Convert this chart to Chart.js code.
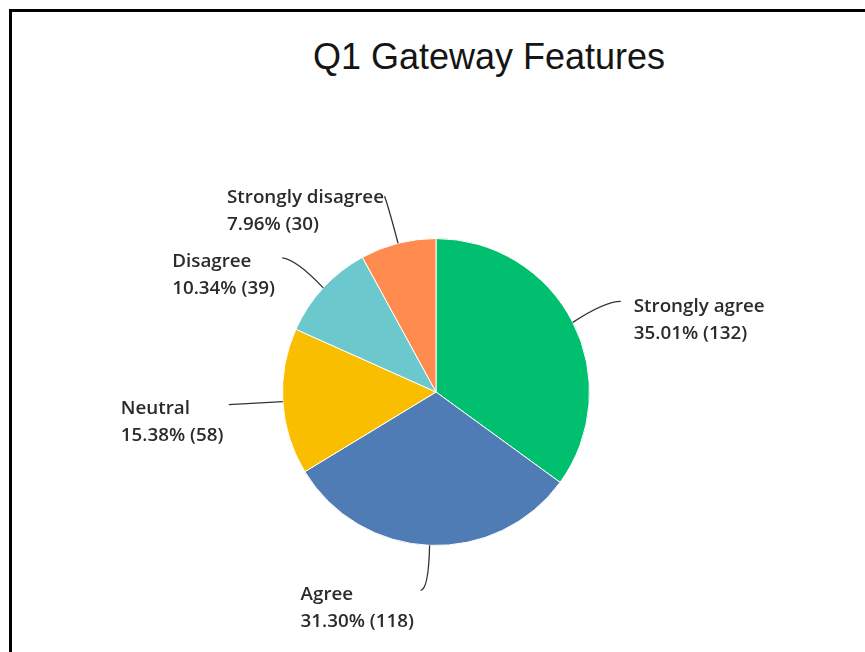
<!DOCTYPE html>
<html>
<head>
<meta charset="utf-8">
<script src="https://cdn.jsdelivr.net/npm/chart.js@4/dist/chart.umd.min.js"></script>
<style>
  html, body { margin: 0; padding: 0; background: #fff; overflow: hidden; }
  #frame { position: absolute; left: 9px; top: 9px; width: 900px; height: 700px; border: 3px solid #000; }
  #title { position: absolute; left: 189px; width: 600px; top: 37px; text-align: center;
           font: 36px "Liberation Sans", Arial, sans-serif; line-height: 40px; color: #151515; }
  #chart { position: absolute; left: 0; top: 0; }
</style>
</head>
<body>
<div id="frame"></div>
<div id="title">Q1 Gateway Features</div>
<canvas id="chart" width="865" height="652"></canvas>
<script>
const categories = ["Strongly agree", "Agree", "Neutral", "Disagree", "Strongly disagree"];
const counts = [132, 118, 58, 39, 30];
const percents = [35.01, 31.30, 15.38, 10.34, 7.96];
const sliceColors = ["#00bf6f", "#507cb6", "#f9be00", "#6bc8cd", "#ff8b4f"];

// leader line end (e), curve control (c) and text (t) offsets from the slice's outer midpoint
const labelLayout = [
  { ex: 48, ey: -21, cx: 32, cy: -21, tx: 61, ty: -10 },
  { ex: -9, ey: 45, cx: -1, cy: 44, tx: -129, ty: 55 },
  { ex: -54, ey: 3, cx: -27, cy: 1.5, tx: -162, ty: 12 },
  { ex: -41, ey: -30, cx: -27, cy: -28.5, tx: -151, ty: -21 },
  { ex: -13.5, ey: -47, cx: -10, cy: -38, tx: -171, ty: -40 }
];

const leaderLabels = {
  id: "leaderLabels",
  afterDatasetsDraw(chart) {
    const ctx = chart.ctx;
    const meta = chart.getDatasetMeta(0);
    ctx.save();
    ctx.strokeStyle = "#333";
    ctx.lineWidth = 1.3;
    ctx.fillStyle = "#2b2b2b";
    ctx.font = "600 18.8px 'Open Sans', sans-serif";
    ctx.textBaseline = "alphabetic";
    ctx.textAlign = "left";
    meta.data.forEach((arc, i) => {
      const p = arc.getProps(["x", "y", "startAngle", "endAngle", "outerRadius"], true);
      const mid = (p.startAngle + p.endAngle) / 2;
      const ax = p.x + Math.cos(mid) * p.outerRadius;
      const ay = p.y + Math.sin(mid) * p.outerRadius;
      const l = labelLayout[i];
      ctx.beginPath();
      ctx.moveTo(ax, ay);
      ctx.quadraticCurveTo(ax + l.cx, ay + l.cy, ax + l.ex, ay + l.ey);
      ctx.stroke();
      ctx.fillText(categories[i], ax + l.tx, ay + l.ty);
      ctx.fillText(percents[i].toFixed(2) + "% (" + counts[i] + ")", ax + l.tx, ay + l.ty + 27);
    });
    ctx.restore();
  }
};

new Chart(document.getElementById("chart").getContext("2d"), {
  type: "pie",
  data: {
    labels: categories,
    datasets: [{
      data: counts,
      backgroundColor: sliceColors,
      borderColor: "#ffffff",
      borderWidth: 1
    }]
  },
  options: {
    responsive: false,
    devicePixelRatio: 1,
    animation: false,
    layout: { padding: { left: 282, right: 275, top: 238, bottom: 106 } },
    plugins: {
      legend: { display: false },
      tooltip: { enabled: false },
      title: { display: false }
    }
  },
  plugins: [leaderLabels]
});
</script>
</body>
</html>
